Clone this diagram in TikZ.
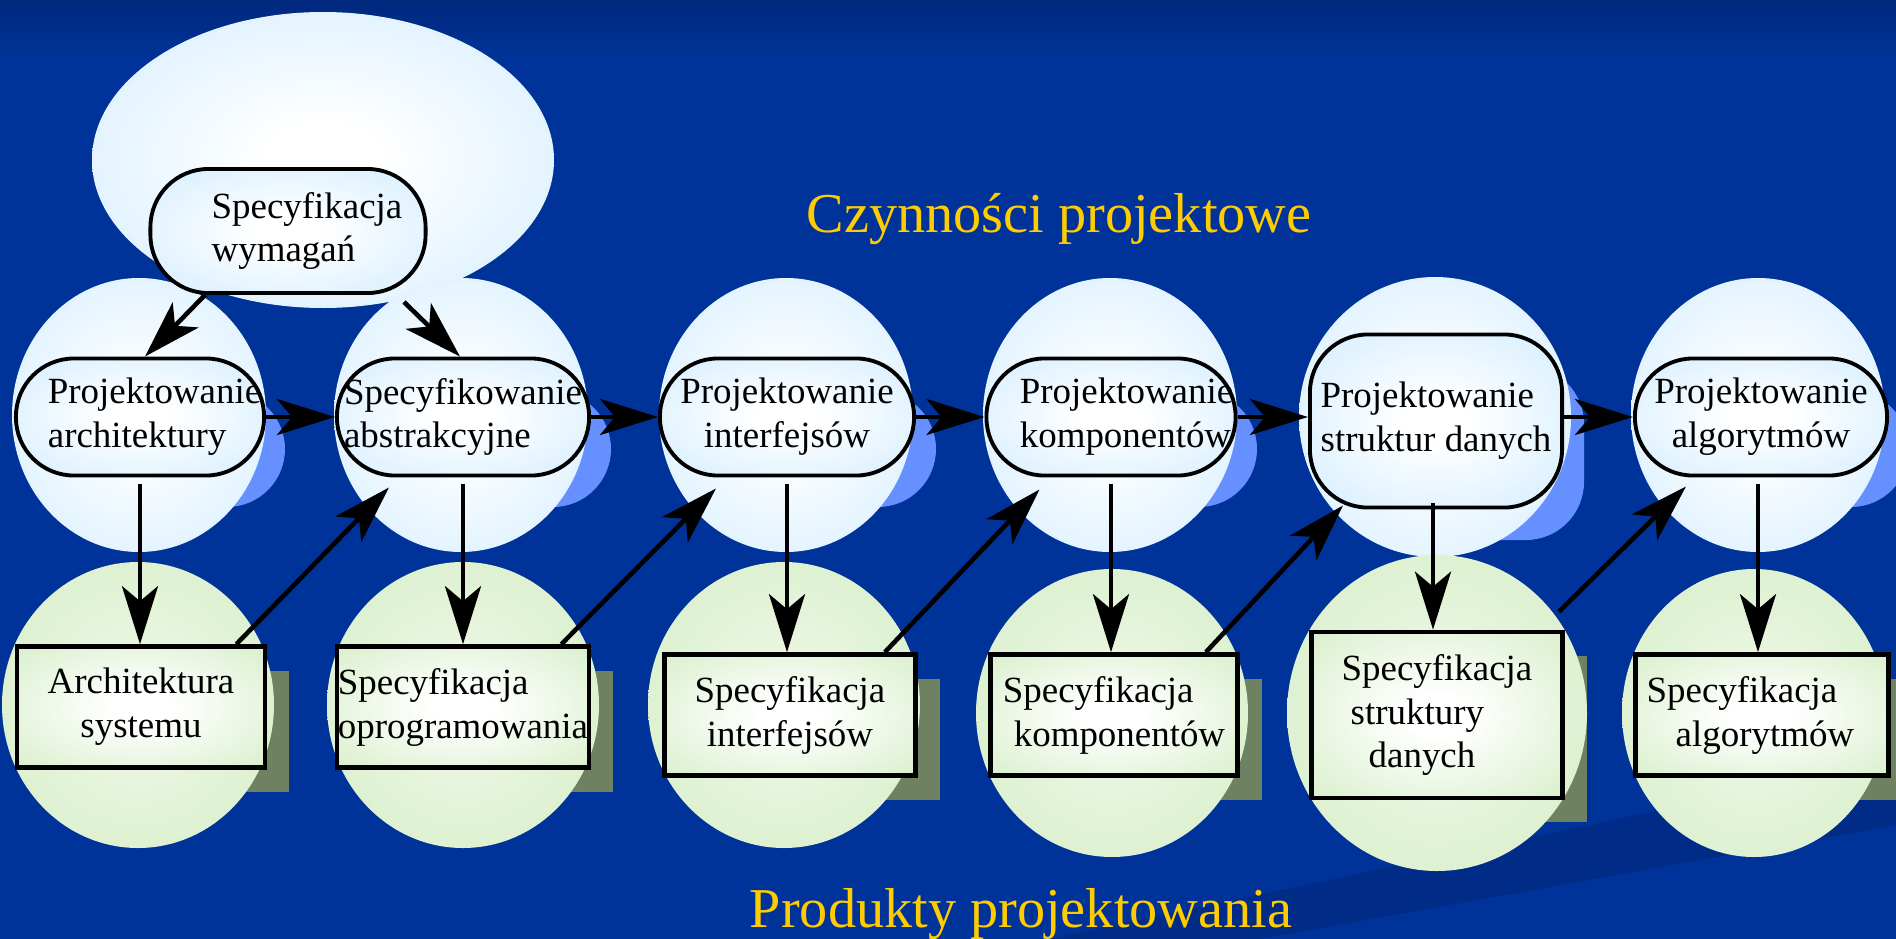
\documentclass[tikz,border=0pt]{standalone}
\usepackage{fontspec}
\setmainfont{Liberation Serif}
\usetikzlibrary{arrows.meta,calc}

\definecolor{SlideBlue}{RGB}{0,51,153}
\definecolor{SlideTop}{RGB}{0,40,125}
\definecolor{SlideDark}{RGB}{0,44,136}
\definecolor{CloudBlue}{RGB}{206,235,255}
\definecolor{ShadowBlue}{RGB}{102,144,255}
\definecolor{LeafGreen}{RGB}{212,237,196}
\definecolor{LeafCore}{RGB}{240,249,234}
\definecolor{ShadowOlive}{RGB}{110,130,98}
\definecolor{TitleGold}{RGB}{255,204,0}

\pgfdeclareradialshading{BlueGlow}{\pgfpoint{0bp}{0bp}}{color(0bp)=(white); color(6bp)=(white); color(40bp)=(CloudBlue); color(50bp)=(CloudBlue)}
\pgfdeclareradialshading{GreenGlow}{\pgfpoint{0bp}{0bp}}{color(0bp)=(LeafCore); color(38bp)=(LeafGreen); color(50bp)=(LeafGreen)}
\pgfdeclareradialshading{PaperGlow}{\pgfpoint{0bp}{0bp}}{color(0bp)=(white); color(6bp)=(white); color(40bp)=(LeafGreen); color(50bp)=(LeafGreen)}

\begin{document}
\begin{tikzpicture}[
    x=0.01cm, y=-0.01cm,
    Cloud/.style={shade,shading=BlueGlow},
    Leaf/.style={shade,shading=GreenGlow},
    Activity/.style={draw,line width=1.1pt,rounded corners=0.58cm,shade,shading=BlueGlow,
      minimum height=1.17cm,inner sep=0pt,font=\fontsize{10.5}{12.5}\selectfont},
    Product/.style={draw,line width=1.3pt,shade,shading=PaperGlow,
      minimum height=1.21cm,inner sep=0pt,font=\fontsize{10.5}{12.5}\selectfont},
    ActShadow/.style={fill=ShadowBlue,rounded corners=0.58cm},
    ProdShadow/.style={fill=ShadowOlive},
    Line/.style={-{Stealth[length=0.58cm,width=0.36cm,inset=0.15cm]},line width=1.3pt},
    Caption/.style={text=TitleGold,font=\fontsize{16}{19}\selectfont,inner sep=0pt,anchor=base},
    ]

    \useasboundingbox (0,0) rectangle (1896,939);
    \clip (0,0) rectangle (1896,939);

    % slide background
    \fill[SlideBlue] (0,0) rectangle (1896,939);
    \shade[top color=SlideTop,bottom color=SlideBlue] (0,0) rectangle (1896,60);
    \fill[SlideDark] (1050,939) -- (1896,760) -- (1896,825) -- (1260,939) -- cycle;

    % shadows
    \fill[ActShadow]  (39,391) rectangle (285,507);
    \fill[ActShadow]  (359,391) rectangle (611,507);
    \fill[ActShadow]  (682,391) rectangle (936,507);
    \fill[ActShadow]  (1008,391) rectangle (1257,507);
    \fill[ActShadow]  (1332,366) rectangle (1584,540);
    \fill[ActShadow]  (1657,391) rectangle (1909,507);
    \fill[ProdShadow] (41,671) rectangle (289,792);
    \fill[ProdShadow] (361,671) rectangle (613,792);
    \fill[ProdShadow] (689,679) rectangle (940,800);
    \fill[ProdShadow] (1015,679) rectangle (1262,800);
    \fill[ProdShadow] (1336,656) rectangle (1587,822);
    \fill[ProdShadow] (1660,679) rectangle (1913,800);

    % blobs
    \path[Cloud] (323,160) ellipse [x radius=231, y radius=148];
    \path[Cloud] (139,415) ellipse [x radius=127, y radius=137];
    \path[Cloud] (461,415) ellipse [x radius=127, y radius=137];
    \path[Cloud] (786,415) ellipse [x radius=127, y radius=137];
    \path[Cloud] (1110,415) ellipse [x radius=127, y radius=137];
    \path[Cloud] (1435,417) ellipse [x radius=136, y radius=140];
    \path[Cloud] (1758,415) ellipse [x radius=127, y radius=137];
    \path[Leaf] (138,705) ellipse [x radius=136, y radius=143];
    \path[Leaf] (463,705) ellipse [x radius=136, y radius=143];
    \path[Leaf] (784,705) ellipse [x radius=136, y radius=143];
    \path[Leaf] (1112,713) ellipse [x radius=136, y radius=144];
    \path[Leaf] (1437,713) ellipse [x radius=150, y radius=158];
    \path[Leaf] (1754,713) ellipse [x radius=132, y radius=144];

    % activities
    \node[Activity,minimum width=2.75cm,minimum height=1.24cm,align=left] (P0) at (288,231)
      {\hspace*{0.38cm}Specyfikacja\\\hspace*{0.38cm}wymagań};
    \node[Activity,minimum width=2.48cm,align=left] (P1) at (140,417)
      {\hspace*{0.29cm}Projektowanie\\\hspace*{0.29cm}architektury};
    \node[Activity,minimum width=2.52cm,align=left] (P2) at (463,417) {Specyfikowanie\\abstrakcyjne};
    \node[Activity,minimum width=2.54cm,align=center] (P3) at (787,417) {Projektowanie\\interfejsów};
    \node[Activity,minimum width=2.49cm,align=left] (P4) at (1111,417)
      {\hspace*{0.31cm}Projektowanie\\\hspace*{0.31cm}komponentów};
    \node[Activity,minimum width=2.52cm,minimum height=1.73cm,align=left] (P5) at (1436,421) {Projektowanie\\struktur danych};
    \node[Activity,minimum width=2.52cm,align=center] (P6) at (1761,417) {Projektowanie\\algorytmów};

    % products
    \node[Product,minimum width=2.48cm,align=center] (R1) at (141,707) {Architektura\\systemu};
    \node[Product,minimum width=2.52cm,align=left] (R2) at (463,707) {Specyfikacja\\oprogramowania};
    \node[Product,minimum width=2.51cm,align=center] (R3) at (790,715) {Specyfikacja\\interfejsów};
    \node[Product,minimum width=2.47cm,align=left] (R4) at (1114,715)
      {Specyfikacja\\\hspace*{0.11cm}komponentów};
    \node[Product,minimum width=2.51cm,minimum height=1.66cm,align=left] (R5) at (1437,715)
      {Specyfikacja\\\hspace*{0.09cm}struktury\\\hspace*{0.27cm}danych};
    \node[Product,minimum width=2.53cm,align=left] (R6) at (1762,715)
      {Specyfikacja\hspace*{0.4cm}\\\hspace*{0.29cm}algorytmów};

    % connectors
    \draw[Line] ($(P0.south)+(-83,0)$) -- ($(P1.north)+(5,0)$);
    \draw[Line] ($(P0.south)+(116,7)$) -- ($(P2.north)+(-3,0)$);

    \draw[Line] (P1.east) -- (P2.west);
    \draw[Line] (P2.east) -- (P3.west);
    \draw[Line] (P3.east) -- (P4.west);
    \draw[Line] (P4.east) -- (P4.east -| P5.west);
    \draw[Line] (P5.east |- P6.west) -- (P6.west);

    \draw[Line,shorten <=0.07cm] (P1.south) -- (P1.south |- R1.north);
    \draw[Line,shorten <=0.07cm] (P2.south) -- (P2.south |- R2.north);
    \draw[Line,shorten <=0.07cm] (P3.south) -- (P3.south |- R3.north);
    \draw[Line,shorten <=0.07cm] (P4.south) -- (P4.south |- R4.north);
    \draw[Line] ($(P5.south)+(-3,-6)$) -- ($(R5.north)+(-4,0)$);
    \draw[Line,shorten <=0.07cm] ($(P6.south)+(-3,0)$) -- ($(R6.north)+(-4,0)$);

    \draw[Line] ($(R1.north east)+(-31,0)$) -- ($(P2.south west)+(54,10)$);
    \draw[Line] ($(R2.north east)+(-30,0)$) -- ($(P3.south west)+(58,11)$);
    \draw[Line] ($(R3.north east)+(-33,0)$) -- ($(P4.south west)+(55,12)$);
    \draw[Line] ($(R4.north east)+(-34,0)$) -- ($(P5.south west)+(35,-4)$);
    \draw[Line] ($(R5.north east)+(-6,-18)$) -- ($(P6.south west)+(53,9)$);

    % captions
    \node[Caption] (Czynnosci) at (1059,232) {Czynności projektowe};
    \node[Caption] (Produkty) at (1021,927) {Produkty projektowania};
  \end{tikzpicture}
\end{document}
